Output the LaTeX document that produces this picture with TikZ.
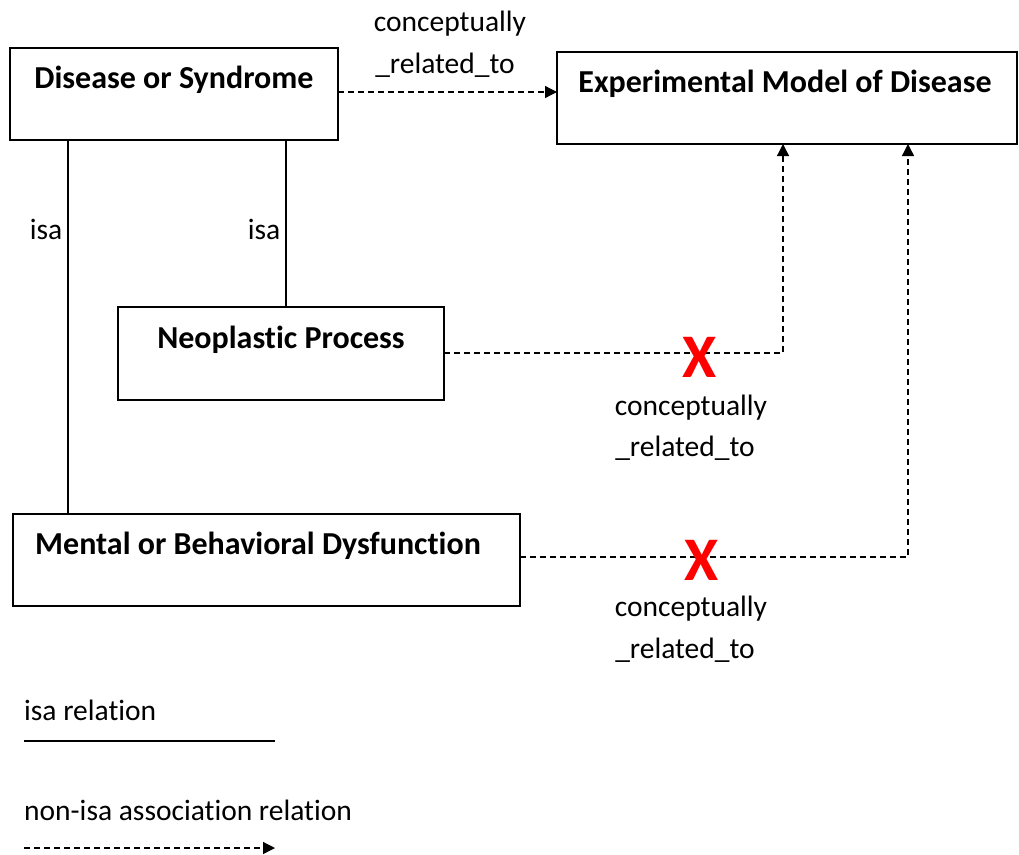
\documentclass[tikz,border=0pt]{standalone}
\usepackage{fontspec}
\setmainfont{Carlito}[Ligatures=NoCommon]
\usetikzlibrary{arrows.meta}
\begin{document}
\begin{tikzpicture}[x=1pt,y=-1pt,
  box/.style={draw,line width=1.6pt,inner sep=0pt},
  boxtitle/.style={font=\fontsize{32}{36}\selectfont\bfseries,inner sep=0pt},
  lbl/.style={font=\fontsize{29.5}{34}\selectfont,inner sep=0pt},
  isa/.style={line width=1.4pt},
  assoc/.style={line width=1.3pt,dash pattern=on 6pt off 4pt,
    -{Triangle[length=12pt,width=12pt]}},
  cross/.style={text=red,font=\fontsize{62}{62}\selectfont\bfseries,inner sep=0pt}]
\useasboundingbox (0,0) rectangle (1019,854);

% boxes
\draw[box] (10,48) rectangle (338,140);
\node[boxtitle] (ds) at (174,80) {Disease or Syndrome};
\draw[box] (557,52) rectangle (1017,144);
\node[boxtitle] (emd) at (785,84) {Experimental Model of Disease};
\draw[box] (118,307) rectangle (444,400);
\node[boxtitle] (np) at (281,340) {Neoplastic Process};
\draw[box] (13,514) rectangle (520,606);
\node[boxtitle] (mbd) at (258,546) {Mental or Behavioral Dysfunction};

\coordinate (dsR) at (338,92);
\coordinate (emdL) at (557,92);
\coordinate (dsB1) at (68,140);
\coordinate (dsB2) at (286,140);
\coordinate (mbdT) at (68,514);
\coordinate (npT) at (286,307);
\coordinate (npR) at (444,353);
\coordinate (mbdR) at (520,557);
\coordinate (emdB1) at (783,144);
\coordinate (emdB2) at (908,144);

% isa links
\draw[isa] (dsB1) -- (mbdT);
\draw[isa] (dsB2) -- (npT);
\node[lbl] (isa1) at (46,229) {isa};
\node[lbl] (isa2) at (264,229) {isa};

% association links
\draw[assoc] (dsR) -- (emdL);
\node[lbl] (c1a) at (450,24) {conceptually};
\node[lbl] (c1b) at (445,65) {\_related\_to};

\draw[assoc] (npR) -| (emdB1);
\node[cross] (x1) at (700,357) {X};
\node[lbl] (c2a) at (691,408) {conceptually};
\node[lbl] (c2b) at (685,448) {\_related\_to};

\draw[assoc] (mbdR) -| (emdB2);
\node[cross] (x2) at (702,560) {X};
\node[lbl] (c3a) at (691,609) {conceptually};
\node[lbl] (c3b) at (685,650) {\_related\_to};

% legend
\node[lbl,anchor=west] (l1) at (24,710) {isa relation};
\coordinate (l1a) at (24,741);
\coordinate (l1b) at (275,741);
\draw[isa] (l1a) -- (l1b);
\node[lbl,anchor=west] (l2) at (24,810) {non-isa association relation};
\coordinate (l2a) at (24,848);
\coordinate (l2b) at (275,848);
\draw[assoc] (l2a) -- (l2b);
\end{tikzpicture}
\end{document}
